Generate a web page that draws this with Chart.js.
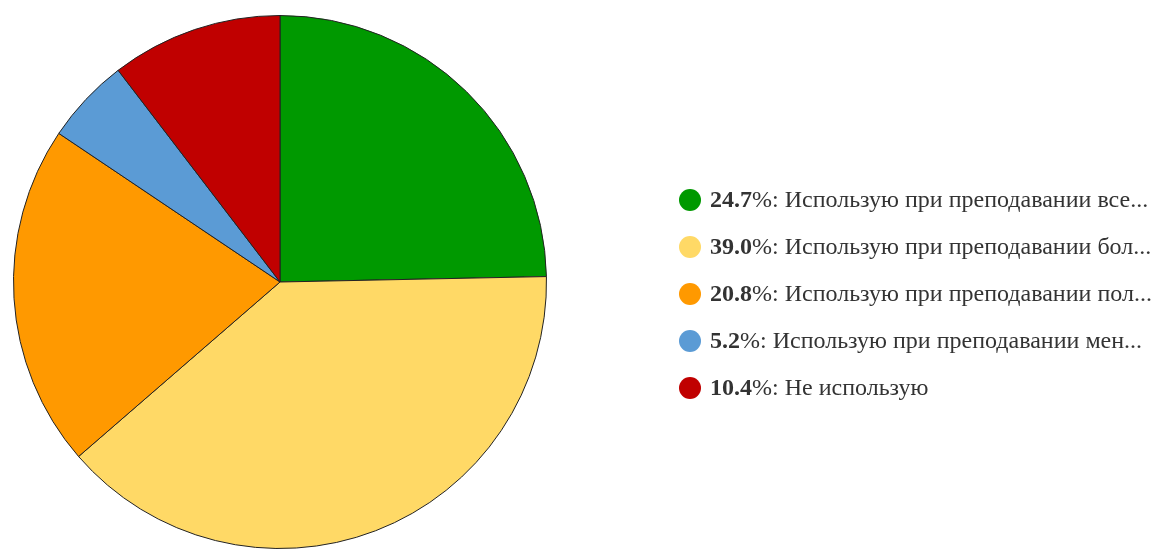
<!DOCTYPE html>
<html>
<head>
<meta charset="utf-8">
<script src="https://cdn.jsdelivr.net/npm/chart.js@4/dist/chart.umd.min.js"></script>
<style>
  html, body { margin: 0; padding: 0; background: #fff; }
  #wrap { width: 1159px; height: 549px; }
</style>
</head>
<body>
<div id="wrap"><canvas id="pieChart"></canvas></div>
<script>
// data
const labels = [
    "Использую при преподавании все...",
    "Использую при преподавании бол...",
    "Использую при преподавании пол...",
    "Использую при преподавании мен...",
    "Не использую"
];
const percents = [24.7, 39.0, 20.8, 5.2, 10.4];
const colors = ["#009900", "#FFD966", "#FF9900", "#5B9BD5", "#C00000"];

// legend drawn on the canvas: bold number, regular rest
const sideLegend = {
    id: 'sideLegend',
    afterDraw(chart) {
        const c = chart.ctx;
        const x0 = 690, y0 = 200, step = 47;
        c.save();
        c.textBaseline = 'middle';
        chart.data.labels.forEach((label, i) => {
            const y = y0 + i * step;
            c.beginPath();
            c.arc(x0, y, 11, 0, Math.PI * 2);
            c.fillStyle = chart.data.datasets[0].backgroundColor[i];
            c.fill();
            c.fillStyle = '#333';
            c.font = 'bold 24px "Liberation Serif"';
            const num = chart.data.datasets[0].data[i].toFixed(1);
            c.fillText(num, x0 + 20, y + 1);
            const w = c.measureText(num).width;
            c.font = '24px "Liberation Serif"';
            c.fillText('%: ' + label, x0 + 20 + w, y + 1);
        });
        c.restore();
    }
};

new Chart(document.getElementById('pieChart'), {
    type: 'pie',
    data: {
        labels: labels,
        datasets: [{
            data: percents,
            backgroundColor: colors,
            borderColor: '#222',
            borderWidth: 1
        }]
    },
    options: {
        responsive: true,
        maintainAspectRatio: false,
        animation: false,
        layout: { padding: { left: 13, right: 612, top: 15, bottom: 0 } },
        plugins: {
            legend: { display: false },
            tooltip: { enabled: false }
        }
    },
    plugins: [sideLegend]
});
</script>
</body>
</html>
